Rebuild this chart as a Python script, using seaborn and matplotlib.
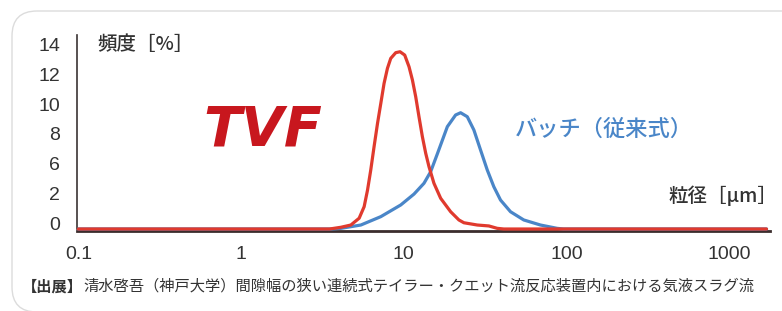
import matplotlib
matplotlib.use('Agg')
import matplotlib.pyplot as plt
import seaborn as sns
import numpy as np
from matplotlib.patches import FancyBboxPatch

# particle size [um] / frequency [%]
red_x = [0.1, 3.5, 4.11, 4.73, 5.32, 5.71, 5.99, 6.27, 6.57, 6.90, 7.23,
         7.57, 7.94, 8.32, 8.93, 9.49, 10.14, 10.78, 11.31, 11.85, 12.41,
         13.02, 13.65, 14.30, 15.34, 16.87, 19.43, 21.84, 23.44, 28.32,
         33.37, 37.57, 41.24, 1700]
red_y = [0, 0, 0.13, 0.30, 0.81, 1.68, 2.93, 4.44, 6.19, 7.95, 9.46,
         10.96, 12.09, 12.84, 13.27, 13.34, 13.09, 12.21, 11.21, 9.95, 8.45,
         6.95, 5.70, 4.69, 3.44, 2.31, 1.30, 0.68, 0.47, 0.30,
         0.23, 0.05, 0, 0]

blue_x = [0.1, 3.6, 4.11, 5.45, 7.23, 9.59, 11.57, 13.32, 14.64, 16.09,
          18.54, 20.84, 22.37, 24.59, 27.00, 29.68, 32.63, 35.81, 39.36,
          45.34, 54.70, 69.27, 87.70, 95.9, 1700]
blue_y = [0, 0, 0.05, 0.30, 0.93, 1.81, 2.63, 3.44, 4.31, 5.65,
          7.70, 8.58, 8.75, 8.45, 7.45, 5.94, 4.44, 3.18, 2.18,
          1.30, 0.68, 0.30, 0.05, 0, 0]

xticks = [0.1, 1, 10, 100, 1000]
xtick_labels = ["0.1", "1", "10", "100", "1000"]
ytick_labels = ["0", "2", "6", "8", "10", "12", "14"]

red = "#e03a2e"
blue = "#4a86c8"
logo_red = "#c8171e"

sns.set_style("white")
plt.rcParams['font.family'] = ['Liberation Sans', 'Noto Sans CJK JP', 'DejaVu Sans']
cjk = ['Noto Sans CJK JP', 'DejaVu Sans']

fig = plt.figure(figsize=(7.82, 3.11), dpi=100)
ax = fig.add_axes([77 / 782, 82 / 311, 693 / 782, 194 / 311])

sns.lineplot(x=blue_x, y=blue_y, ax=ax, color=blue, linewidth=2.3,
             clip_on=False, zorder=3)
sns.lineplot(x=red_x, y=red_y, ax=ax, color=red, linewidth=2.3,
             clip_on=False, zorder=4)
for ln in ax.lines:
    ln.set_solid_joinstyle('round')

ax.set_xscale('log')
ax.set_xlim(0.098, 1786)
ax.set_ylim(0, 14.6)

ax.set_xticks(xticks)
ax.set_xticklabels(xtick_labels)
ax.xaxis.set_minor_locator(matplotlib.ticker.NullLocator())
ax.set_yticks(np.linspace(0.45, 13.85, 7))
ax.set_yticklabels(ytick_labels)
ax.get_xticklabels()[0].set_ha('left')
ax.get_xticklabels()[-1].set_ha('left')

ax.tick_params(axis='both', length=0, labelsize=14, labelcolor='#333333')
ax.tick_params(axis='y', pad=12)
ax.tick_params(axis='x', pad=11)

for s in ['top', 'right']:
    ax.spines[s].set_visible(False)
ax.spines['left'].set_color('#3b3333')
ax.spines['left'].set_linewidth(1.2)
ax.spines['bottom'].set_color('#3b2d2d')
ax.spines['bottom'].set_linewidth(2)
ax.spines['bottom'].set_position(('outward', 1.5))
ax.set_xlabel('')
ax.set_ylabel('')

# annotations
fig.text(97 / 782, 1 - 45 / 311, "頻度［%］", family=cjk, fontsize=14,
         weight='medium', color='#333333', ha='left', va='center')
fig.text(777 / 782, 1 - 196 / 311, "粒径［μm］", family=cjk, fontsize=14,
         weight='medium', color='#333333', ha='right', va='center')
fig.text(515 / 782, 1 - 129 / 311, "バッチ（従来式）", family=cjk, fontsize=16,
         weight='medium', color=blue, ha='left', va='center')
fig.text(203 / 782, 1 - 145 / 311, "TVF", family='DejaVu Sans', fontsize=40,
         weight='bold', style='italic', color=logo_red, ha='left', va='baseline')

t1 = fig.text(22 / 782, 1 - 295 / 311, "【出展】", family=cjk, fontsize=11,
              weight='bold', color='#333333', ha='left', va='bottom')
ax.annotate("清水啓吾（神戸大学）間隙幅の狭い連続式テイラー・クエット流反応装置内における気液スラグ流",
            xy=(1, 0), xycoords=t1, family=cjk, fontsize=11, color='#333333',
            ha='left', va='bottom', annotation_clip=False)

# rounded frame
frame = FancyBboxPatch((0.12, -0.01), 8.0, 3.01,
                       boxstyle="round,pad=0,rounding_size=0.25",
                       transform=fig.dpi_scale_trans, facecolor='none',
                       edgecolor='#dcdcdc', linewidth=1.0)
fig.add_artist(frame)

fig.savefig("out.png", dpi=100)
